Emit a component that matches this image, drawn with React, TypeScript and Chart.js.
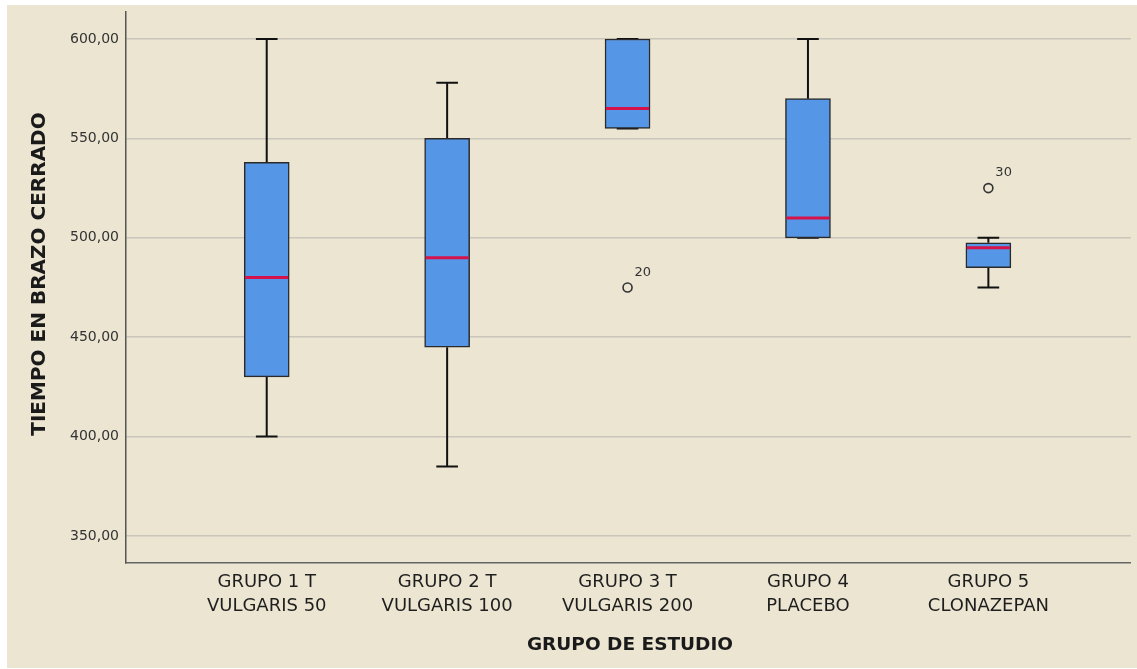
import React, { useEffect, useRef } from "react";
import { Chart, registerables } from "chart.js";

Chart.register(...registerables);

const categories: string[][] = [
  ["GRUPO 1 T", "VULGARIS 50"],
  ["GRUPO 2 T", "VULGARIS 100"],
  ["GRUPO 3 T", "VULGARIS 200"],
  ["GRUPO 4", "PLACEBO"],
  ["GRUPO 5", "CLONAZEPAN"],
];
const positions = [1, 2, 3, 4, 5];
const whiskerLow = [400, 385, 555, 500, 475];
const q1 = [430, 445, 555, 500, 485];
const medians = [480, 490, 565, 510, 495];
const q3 = [538, 550, 600, 570, 497.5];
const whiskerHigh = [600, 578, 600, 600, 500];
const outlierGroups = [3, 5];
const outlierValues = [475, 525];
const outlierLabels = ["20", "30"];
const yTicks = [350, 400, 450, 500, 550, 600];
const yTitle = "TIEMPO EN BRAZO CERRADO";
const xTitle = "GRUPO DE ESTUDIO";

const BG = "#EBE5D2";
const FONT = "'DejaVu Sans', sans-serif";

const boxPlugin = {
  id: "boxExtras",
  beforeDatasetsDraw(chart: any) {
    const { ctx, scales } = chart;
    const x = scales.x;
    const y = scales.y;
    ctx.save();
    ctx.strokeStyle = "#111";
    ctx.lineWidth = 2;
    positions.forEach((p, i) => {
      const cx = x.getPixelForValue(p);
      const capHalf = x.getPixelForValue(p + 0.06) - cx;
      const yl = y.getPixelForValue(whiskerLow[i]);
      const yq1 = y.getPixelForValue(q1[i]);
      const yq3 = y.getPixelForValue(q3[i]);
      const yh = y.getPixelForValue(whiskerHigh[i]);
      ctx.beginPath();
      ctx.moveTo(cx, yl);
      ctx.lineTo(cx, yq1);
      ctx.moveTo(cx, yq3);
      ctx.lineTo(cx, yh);
      ctx.moveTo(cx - capHalf, yl);
      ctx.lineTo(cx + capHalf, yl);
      ctx.moveTo(cx - capHalf, yh);
      ctx.lineTo(cx + capHalf, yh);
      ctx.stroke();
    });
    ctx.restore();
  },
  afterDatasetsDraw(chart: any) {
    const { ctx, scales } = chart;
    const x = scales.x;
    const y = scales.y;
    const meta = chart.getDatasetMeta(0);
    ctx.save();
    ctx.strokeStyle = "#D7124B";
    ctx.lineWidth = 3;
    positions.forEach((p, i) => {
      const bar = meta.data[i];
      const half = bar.width / 2 - 1;
      const cx = x.getPixelForValue(p);
      const ym = y.getPixelForValue(medians[i]);
      ctx.beginPath();
      ctx.moveTo(cx - half, ym);
      ctx.lineTo(cx + half, ym);
      ctx.stroke();
    });
    ctx.fillStyle = "#333";
    ctx.font = `13px ${FONT}`;
    ctx.textAlign = "left";
    ctx.textBaseline = "middle";
    outlierGroups.forEach((g, i) => {
      const px = x.getPixelForValue(g);
      const py = y.getPixelForValue(outlierValues[i]);
      ctx.fillText(outlierLabels[i], px + 7, py - 15);
    });
    ctx.restore();
  },
  afterDraw(chart: any) {
    const { ctx } = chart;
    ctx.save();
    ctx.fillStyle = "#1a1a1a";
    ctx.textAlign = "center";
    ctx.textBaseline = "middle";
    ctx.font = `bold 18.5px ${FONT}`;
    ctx.fillText(xTitle, 623, 640);
    ctx.font = `bold 20px ${FONT}`;
    ctx.translate(33, 269);
    ctx.rotate(-Math.PI / 2);
    ctx.fillText(yTitle, 0, 0);
    ctx.restore();
  },
};

export default function App() {
  const ref = useRef<HTMLCanvasElement>(null);
  useEffect(() => {
    if (!ref.current) return;
    const chart = new Chart(ref.current, {
      type: "bar",
      data: {
        datasets: [
          {
            type: "bar",
            data: positions.map((p, i) => ({ x: p, y: [q1[i], q3[i]] })) as any,
            backgroundColor: "#5596E6",
            borderColor: "#2a2a2a",
            borderWidth: 1.5,
            borderSkipped: false,
            barThickness: 45,
          } as any,
          {
            type: "scatter",
            data: outlierGroups.map((g, i) => ({ x: g, y: outlierValues[i] })),
            pointRadius: 4.5,
            pointBorderColor: "#333",
            pointBackgroundColor: "rgba(0,0,0,0)",
            pointBorderWidth: 1.6,
          } as any,
        ],
      },
      options: {
        responsive: false,
        animation: false,
        layout: { padding: { left: 0, top: 7, right: 4, bottom: 0 } },
        plugins: {
          legend: { display: false },
          tooltip: { enabled: false },
        },
        scales: {
          x: {
            type: "linear",
            offset: false,
            min: 0.22,
            max: 5.79,
            grid: { display: false, drawTicks: false, offset: false },
            border: { display: true, color: "#666", width: 1.5 },
            afterBuildTicks: (s: any) => {
              s.ticks = positions.map((v) => ({ value: v }));
            },
            afterFit: (s: any) => {
              s.height = 105;
              s.paddingLeft = 0;
              s.paddingRight = 0;
            },
            ticks: {
              autoSkip: false,
              maxRotation: 0,
              padding: 8,
              color: "#1e1e1e",
              font: { family: FONT, size: 18, lineHeight: 1.3 },
              callback: (v: any) => categories[Math.round(v) - 1],
            },
          },
          y: {
            type: "linear",
            min: 336.4,
            max: 613.6,
            grid: { color: "#C9C5BA", lineWidth: 1.5, drawTicks: false },
            border: { display: true, color: "#555", width: 1.5 },
            afterBuildTicks: (s: any) => {
              s.ticks = yTicks.map((v) => ({ value: v }));
            },
            afterFit: (s: any) => {
              s.width = 119;
              s.paddingTop = 0;
              s.paddingBottom = 0;
            },
            ticks: {
              padding: 7,
              color: "#333",
              font: { family: FONT, size: 14 },
              callback: (v: any) => Number(v).toFixed(2).replace(".", ","),
            },
          },
        },
      },
      plugins: [boxPlugin],
    });
    return () => chart.destroy();
  }, []);
  return (
    <div
      style={{
        position: "absolute",
        left: 7,
        top: 5,
        width: 1130,
        height: 663,
        background: BG,
      }}
    >
      <canvas ref={ref} width={1130} height={663} />
    </div>
  );
}
